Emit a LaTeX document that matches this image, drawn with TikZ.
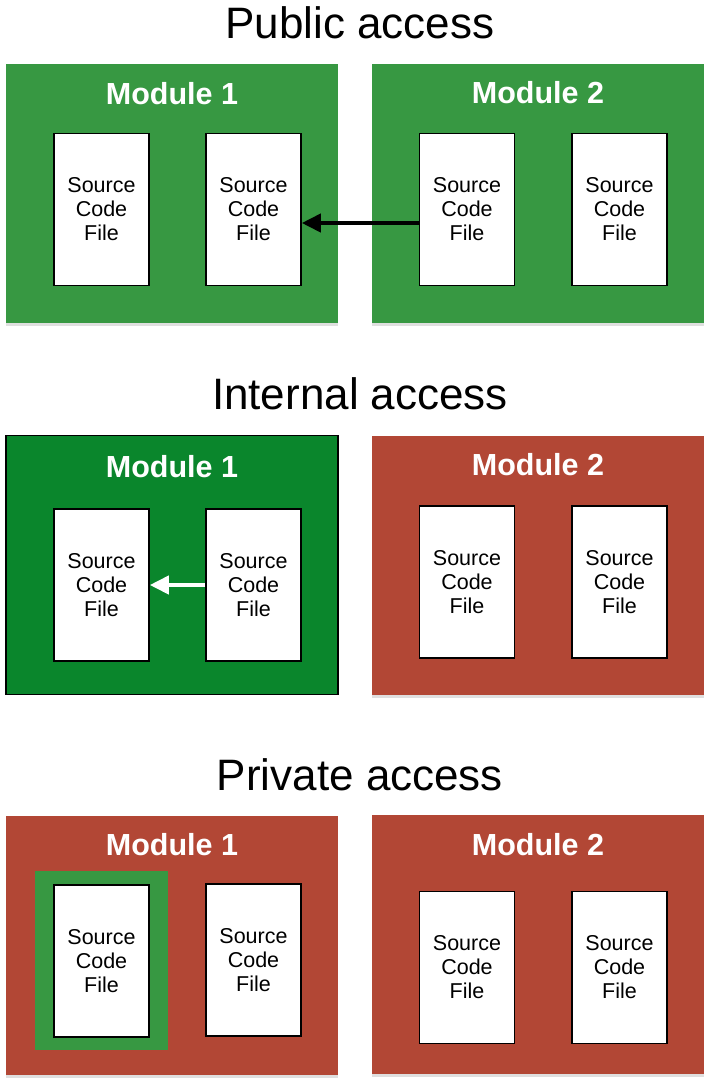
\documentclass[tikz,border=0pt]{standalone}
\usepackage{fontspec}
\setmainfont{Liberation Sans}
\usetikzlibrary{arrows.meta,shadows}
\definecolor{pubgreen}{RGB}{55,152,66}
\definecolor{intgreen}{RGB}{10,134,44}
\definecolor{modred}{RGB}{178,71,53}
\tikzset{
    module/.style={minimum width=332pt, minimum height=259pt, inner sep=0pt,
        drop shadow={shadow xshift=0pt, shadow yshift=-2.5pt, opacity=.25}},
    modlabel/.style={anchor=base, text=white, font=\fontsize{30.5}{30}\selectfont\bfseries},
    heading/.style={anchor=base, font=\fontsize{44}{44}\selectfont},
    srcfile/.style={draw=black, line width=1.6pt, fill=white, inner sep=0pt,
        minimum width=95pt, minimum height=152pt, align=center,
        font=\fontsize{21.5}{24}\selectfont},
    uses/.style={line width=4pt, -{Triangle[length=19pt,width=18pt]}},
}
\begin{document}
\begin{tikzpicture}[x=1pt, y=-1pt]
\useasboundingbox (0,0) rectangle (710,1080);

% public
\node[heading] (pubtitle) at (360,38) {Public access};
\node[module, fill=pubgreen] (pubm1) at (172,193.5) {};
\node[module, fill=pubgreen] (pubm2) at (538,193.5) {};
\node[modlabel] (publ1) at (172,104) {Module 1};
\node[modlabel] (publ2) at (538,103) {Module 2};
\node[srcfile] (pubA) at (101.5,209.5) {Source\\Code\\File};
\node[srcfile] (pubB) at (253.5,209.5) {Source\\Code\\File};
\node[srcfile] (pubC) at (467,209.5) {Source\\Code\\File};
\node[srcfile] (pubD) at (619.5,209.5) {Source\\Code\\File};
\draw[uses] ([yshift=-13.5pt]pubC.west) -- ([yshift=-13.5pt]pubB.east);

% internal
\node[heading] (inttitle) at (360,409) {Internal access};
\node[minimum width=332pt, minimum height=259pt, inner sep=0pt,
    fill=intgreen, draw=black, line width=1.6pt] (intm1) at (172,565) {};
\node[module, fill=modred] (intm2) at (538,565.5) {};
\node[modlabel] (intl1) at (172,477) {Module 1};
\node[modlabel] (intl2) at (538,475) {Module 2};
\node[srcfile] (intA) at (101.5,585) {Source\\Code\\File};
\node[srcfile] (intB) at (253.5,585) {Source\\Code\\File};
\node[srcfile] (intC) at (467,582) {Source\\Code\\File};
\node[srcfile] (intD) at (619.5,582) {Source\\Code\\File};
\draw[uses, white] (intB.west) -- (intA.east);

% private
\node[heading] (privtitle) at (360,790) {Private access};
\node[module, fill=modred] (privm1) at (172,945.5) {};
\node[module, fill=modred] (privm2) at (538,944.5) {};
\node[modlabel] (privl1) at (172,855) {Module 1};
\node[modlabel] (privl2) at (538,855) {Module 2};
\node[fill=pubgreen, minimum width=133pt, minimum height=179pt, inner sep=0pt]
    (privguard) at (101.5,960.5) {};
\node[srcfile] (privA) at (101.5,961) {Source\\Code\\File};
\node[srcfile] (privB) at (253.5,960) {Source\\Code\\File};
\node[srcfile] (privC) at (467,967.5) {Source\\Code\\File};
\node[srcfile] (privD) at (619.5,967.5) {Source\\Code\\File};
\end{tikzpicture}
\end{document}
